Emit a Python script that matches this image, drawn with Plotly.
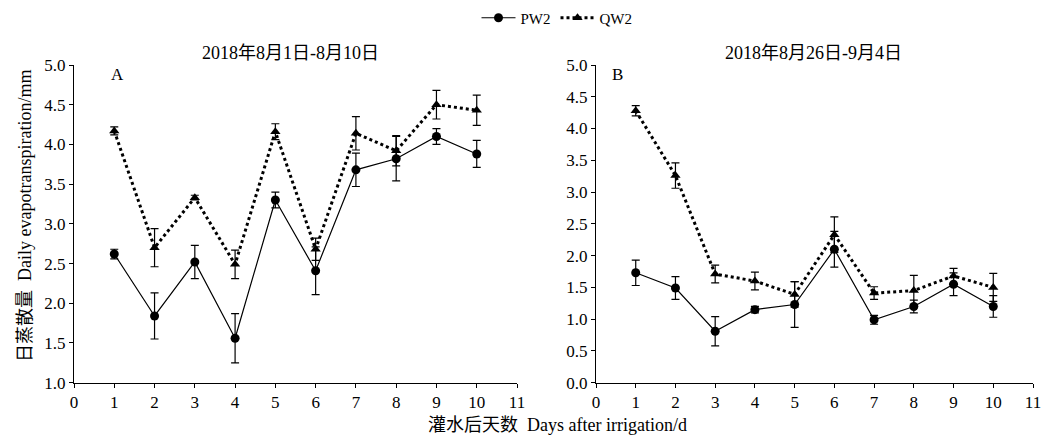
import plotly.graph_objects as go

days = [1, 2, 3, 4, 5, 6, 7, 8, 9, 10]

# Panel A: 2018-08-01 .. 08-10
pw2_a = [2.62, 1.84, 2.52, 1.56, 3.30, 2.41, 3.68, 3.82, 4.10, 3.88]
pw2_a_err = [0.06, 0.29, 0.21, 0.31, 0.10, 0.30, 0.21, 0.28, 0.10, 0.17]
qw2_a = [4.17, 2.70, 3.33, 2.49, 4.16, 2.68, 4.14, 3.92, 4.50, 4.43]
qw2_a_err = [0.05, 0.24, 0.03, 0.18, 0.10, 0.14, 0.21, 0.19, 0.18, 0.19]

# Panel B: 2018-08-26 .. 09-04
pw2_b = [1.73, 1.49, 0.81, 1.15, 1.23, 2.10, 0.99, 1.20, 1.55, 1.20]
pw2_b_err = [0.20, 0.18, 0.23, 0.05, 0.36, 0.28, 0.07, 0.10, 0.18, 0.17]
qw2_b = [4.28, 3.26, 1.71, 1.60, 1.39, 2.33, 1.41, 1.45, 1.68, 1.50]
qw2_b_err = [0.08, 0.20, 0.14, 0.14, 0.20, 0.28, 0.10, 0.24, 0.12, 0.22]

title_a = "2018年8月1日-8月10日"
title_b = "2018年8月26日-9月4日"
series_names = ["PW2", "QW2"]

FONT = "Liberation Serif, Noto Sans CJK SC, serif"

fig = go.Figure()

def add_pair(pw, pwe, qw, qwe, xa, ya, show):
    fig.add_trace(go.Scatter(
        x=days, y=pw, name=series_names[0], mode="lines+markers",
        line=dict(color="black", width=1.2),
        marker=dict(symbol="circle", size=9, color="black"),
        error_y=dict(type="data", array=pwe, visible=True, color="black", thickness=1.2, width=4),
        xaxis=xa, yaxis=ya, showlegend=show, legendrank=1))
    fig.add_trace(go.Scatter(
        x=days, y=qw, name=series_names[1], mode="lines+markers",
        line=dict(color="black", width=3, dash="3px,3px"),
        marker=dict(symbol="triangle-up", size=9, color="black"),
        error_y=dict(type="data", array=qwe, visible=True, color="black", thickness=1.2, width=4),
        xaxis=xa, yaxis=ya, showlegend=show, legendrank=2))

add_pair(pw2_a, pw2_a_err, qw2_a, qw2_a_err, "x", "y", True)
add_pair(pw2_b, pw2_b_err, qw2_b, qw2_b_err, "x2", "y2", False)

W, H = 1048, 439
ydom = [1 - 382.7 / H, 1 - 65 / H]

axis_common = dict(showline=True, linecolor="black", linewidth=1.2, ticks="outside",
                   ticklen=4, tickcolor="black", tickwidth=1.2, showgrid=False, zeroline=False,
                   tickfont=dict(family=FONT, size=17, color="black"))

def ann(text, x, y, size, angle=0):
    return dict(text=text, x=x / W, y=1 - y / H, xref="paper", yref="paper",
                xanchor="center", yanchor="middle", showarrow=False, textangle=angle,
                font=dict(family=FONT, size=size, color="black"))

fig.update_layout(
    width=W, height=H,
    margin=dict(l=0, r=0, t=0, b=0, autoexpand=False),
    paper_bgcolor="white", plot_bgcolor="white",
    font=dict(family=FONT, color="black"),
    xaxis=dict(domain=[74 / W, 517 / W], range=[0, 11], dtick=1, tick0=0, anchor="y", **axis_common),
    yaxis=dict(domain=ydom, range=[1, 5], dtick=0.5, tickformat=".1f", anchor="x", **axis_common),
    xaxis2=dict(domain=[596 / W, 1033 / W], range=[0, 11], dtick=1, tick0=0, anchor="y2", **axis_common),
    yaxis2=dict(domain=ydom, range=[0, 5], dtick=0.5, tickformat=".1f", anchor="x2", **axis_common),
    legend=dict(orientation="h", x=557 / W, xanchor="center", y=1 - 18 / H, yanchor="middle",
                font=dict(family=FONT, size=15, color="black"), itemwidth=34,
                bgcolor="rgba(0,0,0,0)"),
    annotations=[
        ann(title_a, 290, 53, 18),
        ann(title_b, 813, 53, 18),
        ann("A", 117, 75, 17),
        ann("B", 617, 75, 17),
        ann("日蒸散量  Daily evapotranspiration/mm", 25, 216, 18, -90),
        ann("灌水后天数  Days after irrigation/d", 557, 425, 18),
    ],
)

fig.write_html("out.html")
